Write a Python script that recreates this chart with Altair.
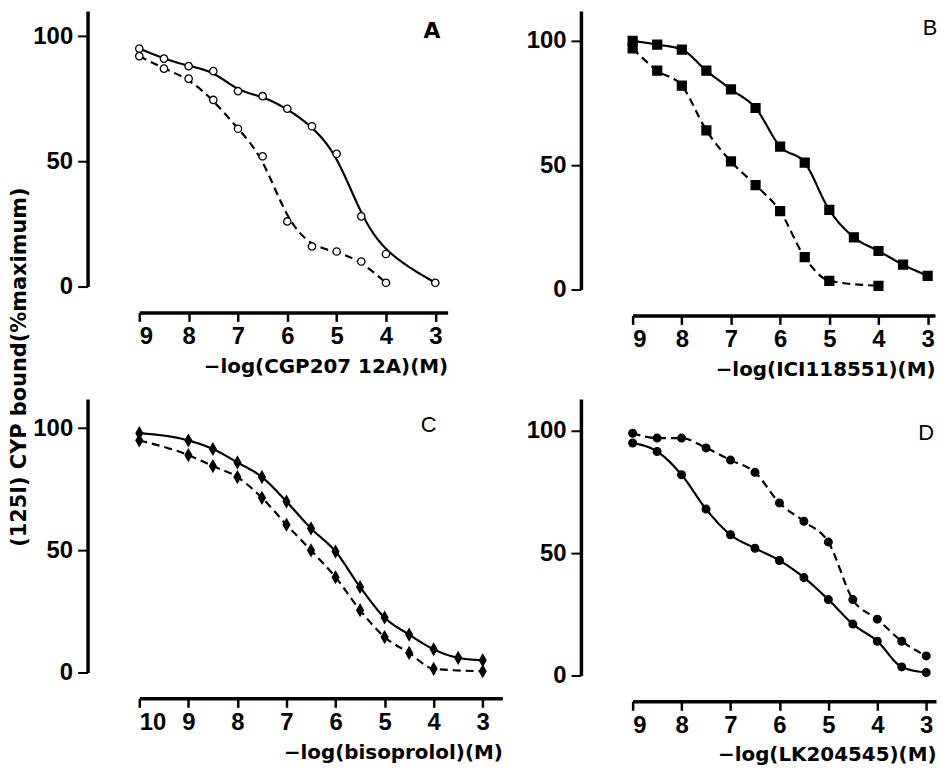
import altair as alt
import pandas as pd

# ---------------- data ----------------
A_x_solid = [9, 8.5, 8, 7.5, 7, 6.5, 6, 5.5, 5, 4.5, 4, 3]
A_y_solid = [95, 91, 88, 86, 78, 76, 71, 64, 53, 28, 13, 1.5]
A_x_dash = [9, 8.5, 8, 7.5, 7, 6.5, 6, 5.5, 5, 4.5, 4]
A_y_dash = [92, 87, 83, 74.5, 63, 52, 26, 16, 14, 10, 1.5]

B_x_solid = [9, 8.5, 8, 7.5, 7, 6.5, 6, 5.5, 5, 4.5, 4, 3.5, 3]
B_y_solid = [100, 98.5, 96.5, 88, 80.5, 73, 57.5, 51, 32, 21, 15.5, 10, 5.5]
B_x_dash = [9, 8.5, 8, 7.5, 7, 6.5, 6, 5.5, 5, 4]
B_y_dash = [97, 88, 82, 64, 51.5, 42, 31.5, 13, 3.5, 1.5]

C_x_solid = [10, 9, 8.5, 8, 7.5, 7, 6.5, 6, 5.5, 5, 4.5, 4, 3.5, 3]
C_y_solid = [98, 95, 91.5, 86, 80, 70, 59, 49.5, 35, 22.5, 15.5, 9.5, 6, 5]
C_x_dash = [10, 9, 8.5, 8, 7.5, 7, 6.5, 6, 5.5, 5, 4.5, 4, 3]
C_y_dash = [95, 89, 84.5, 80, 71.5, 60.5, 50, 39, 25.5, 14.5, 8, 1.5, 0.5]

D_x_solid = [9, 8.5, 8, 7.5, 7, 6.5, 6, 5.5, 5, 4.5, 4, 3.5, 3]
D_y_solid = [95, 91.5, 82, 68, 57.5, 52, 47, 40, 31, 21, 14, 3.5, 1.2]
D_x_dash = [9, 8.5, 8, 7.5, 7, 6.5, 6, 5.5, 5, 4.5, 4, 3.5, 3]
D_y_dash = [99, 97, 97, 93, 88, 83, 70.5, 63, 54.5, 31, 23, 14, 8]

Y_TICKS = [0, 50, 100]
X_TICKS_9 = [9, 8, 7, 6, 5, 4, 3]
X_TICKS_10 = [10, 9, 8, 7, 6, 5, 4, 3]

Y_TITLE = "(125I) CYP bound(%maximum)"
TITLES = {
    "A": "\u2212log(CGP207 12A)(M)",
    "B": "\u2212log(ICI118551)(M)",
    "C": "\u2212log(bisoprolol)(M)",
    "D": "\u2212log(LK204545)(M)",
}

TICK_FONT = "Liberation Sans"
TITLE_FONT = "DejaVu Sans"
DIAMOND = "M0,-1.3L0.75,0L0,1.3L-0.75,0Z"


def make_df(xs, ys, xd, yd):
    rows = [{"x": x, "y": y, "series": "solid"} for x, y in zip(xs, ys)]
    rows += [{"x": x, "y": y, "series": "dashed"} for x, y in zip(xd, yd)]
    return pd.DataFrame(rows)


def panel(df, letter, lx, ly, lfont, lweight, xdomain, xticks, ydomain,
          width, height, shape, filled, size, interp, dash):
    xscale = alt.Scale(domain=xdomain, nice=False, zero=False)
    yscale = alt.Scale(domain=ydomain, nice=False, zero=False)
    xaxis = alt.Axis(values=xticks, offset=26, title=TITLES[letter],
                     titleAnchor="end", format="d", grid=False,
                     domainWidth=3.5, domainColor="black", tickColor="black",
                     tickWidth=2.5, tickSize=9, labelFont=TICK_FONT,
                     labelFontSize=24, labelFontWeight="bold", labelColor="black",
                     labelPadding=3, titleFont=TITLE_FONT, titleFontSize=20,
                     titleFontWeight="bold", titleColor="black", titlePadding=8)
    yaxis = alt.Axis(values=Y_TICKS, offset=52, title="", grid=False,
                     domainWidth=3.5, domainColor="black", tickColor="black",
                     tickWidth=2, tickSize=10, labelFont=TICK_FONT,
                     labelFontSize=24, labelFontWeight="bold", labelColor="black",
                     labelPadding=5)
    base = alt.Chart(df)
    line = base.mark_line(interpolate=interp, color="black", strokeWidth=2.2).encode(
        x=alt.X("x:Q", scale=xscale, axis=xaxis),
        y=alt.Y("y:Q", scale=yscale, axis=yaxis),
        strokeDash=alt.StrokeDash(
            "series:N",
            scale=alt.Scale(domain=["solid", "dashed"], range=[[1, 0], dash]),
            legend=None,
        ),
    )
    pts = base.mark_point(
        shape=shape, filled=True, size=size, stroke="black",
        fill=("black" if filled else "white"), opacity=1, strokeWidth=1.3,
    ).encode(x="x:Q", y="y:Q")
    lab = alt.Chart(pd.DataFrame({"x": [lx], "y": [ly], "t": [letter]})).mark_text(
        font=lfont, fontSize=22, fontWeight=lweight, color="black",
    ).encode(x="x:Q", y="y:Q", text="t:N")
    return alt.layer(line, pts, lab).properties(width=width, height=height)


pA = panel(make_df(A_x_solid, A_y_solid, A_x_dash, A_y_dash), "A", 3.07, 102,
           TITLE_FONT, "bold", [9, 2.75], X_TICKS_9, [0, 110], 310, 277,
           "circle", False, 55, "basis", [8, 5])
pB = panel(make_df(B_x_solid, B_y_solid, B_x_dash, B_y_dash), "B", 2.95, 105,
           TICK_FONT, "normal", [9, 2.85], X_TICKS_9, [0, 112], 304, 280,
           "square", True, 80, "monotone", [6, 4])
pC = panel(make_df(C_x_solid, C_y_solid, C_x_dash, C_y_dash), "C", 4.1, 101.5,
           TICK_FONT, "normal", [10, 2.6], X_TICKS_10, [0, 112], 365, 275,
           DIAMOND, True, 80, "monotone", [8, 5])
pD = panel(make_df(D_x_solid, D_y_solid, D_x_dash, D_y_dash), "D", 3.0, 99,
           TICK_FONT, "normal", [9, 2.8], X_TICKS_9, [0, 113], 305, 278,
           "circle", True, 60, "monotone", [4, 4])

grid = alt.vconcat(
    alt.hconcat(pA, pB, spacing=77),
    alt.hconcat(pC, pD, spacing=22),
    spacing=18,
)

ytitle = alt.Chart(pd.DataFrame({"t": [Y_TITLE]})).mark_text(
    angle=270, font=TITLE_FONT, fontSize=21, fontWeight="bold", color="black",
    align="center", baseline="middle",
).encode(text="t:N", x=alt.value(10.5), y=alt.value(358)).properties(width=19, height=700)

chart = alt.hconcat(ytitle, grid, spacing=0).properties(
    padding={"left": 0, "top": 0, "right": 0, "bottom": 0},
).configure_view(stroke="transparent").configure_axis(grid=False)

chart.save("out.html", embed_options={"renderer": "svg", "actions": False})
